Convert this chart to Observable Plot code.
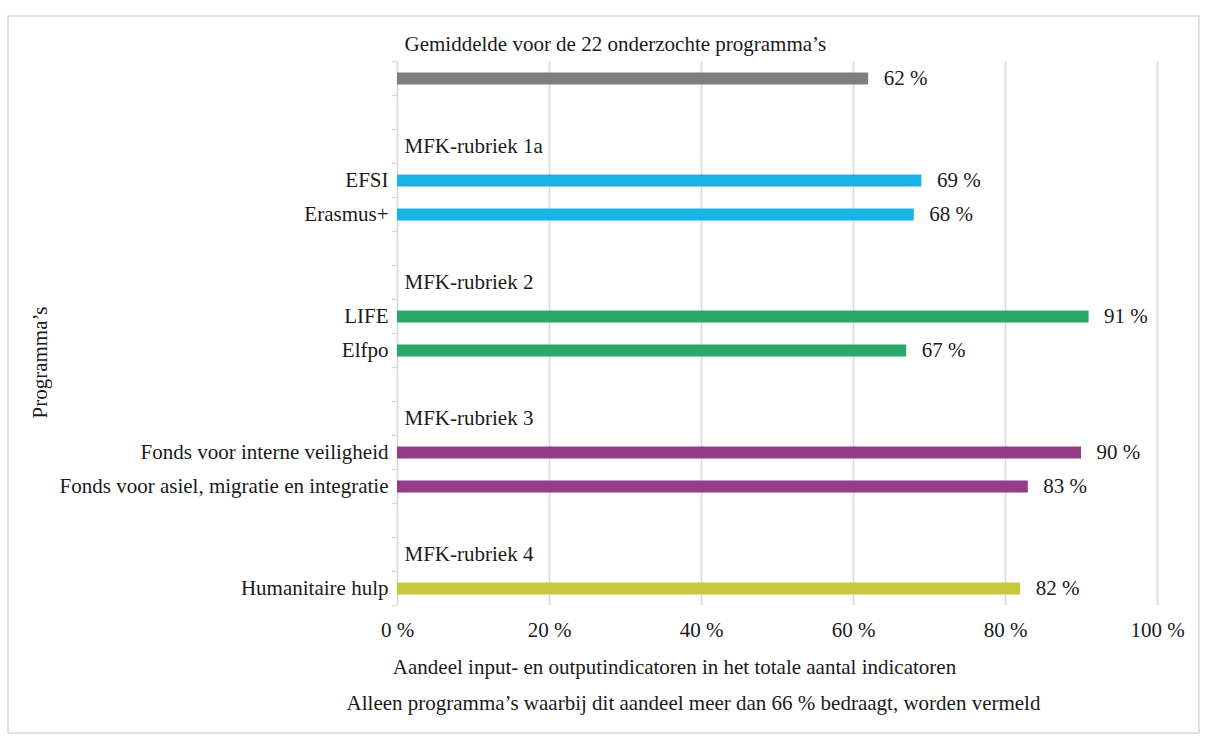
<!DOCTYPE html>
<html>
<head>
<meta charset="utf-8">
<script src="https://cdn.jsdelivr.net/npm/d3@7"></script>
<script src="https://cdn.jsdelivr.net/npm/@observablehq/plot@0.6"></script>
<style>
  html, body { margin: 0; padding: 0; background: #fff; }
</style>
</head>
<body>
<div id="chart"></div>
<script>
const groupNames = [
  "Gemiddelde voor de 22 onderzochte programma’s",
  "MFK-rubriek 1a",
  "MFK-rubriek 2",
  "MFK-rubriek 3",
  "MFK-rubriek 4"
];
const groupColors = ["#7f7f7f", "#19b3e6", "#29a86a", "#923d85", "#c4c83a"];
const programs = [
  "",
  "EFSI",
  "Erasmus+",
  "LIFE",
  "Elfpo",
  "Fonds voor interne veiligheid",
  "Fonds voor asiel, migratie en integratie",
  "Humanitaire hulp"
];
const programGroup = [0, 1, 1, 2, 2, 3, 3, 4];
const shares = [62, 69, 68, 91, 67, 90, 83, 82];
const xTicks = [0, 20, 40, 60, 80, 100];
const xTitle = "Aandeel input- en outputindicatoren in het totale aantal indicatoren";
const xNote = "Alleen programma’s waarbij dit aandeel meer dan 66 % bedraagt, worden vermeld";
const yTitle = "Programma’s";

// Build the row layout from the group structure: header row, items, blank row
const headers = [];
const bars = [];
let row = 0;
groupNames.forEach((g, gi) => {
  headers.push({name: g, row: row});
  row++;
  programs.forEach((p, pi) => {
    if (programGroup[pi] === gi) {
      bars.push({name: p, value: shares[pi], color: groupColors[gi], row: row});
      row++;
    }
  });
  if (gi < groupNames.length - 1) row++;
});
const lastRow = row - 1;
const boundaries = d3.range(0.5, lastRow + 1, 1);

const grid = "#d9d9d9";
const ink = "#1a1a1a";
const fs = 21;

const chart = Plot.plot({
  width: 1209,
  height: 746,
  marginLeft: 397,
  marginRight: 52,
  marginTop: 61,
  marginBottom: 141,
  style: {fontFamily: "'Liberation Serif', serif", fontSize: fs + "px", color: ink, background: "white", overflow: "visible"},
  x: {domain: [0, 100]},
  y: {domain: [0.5, lastRow + 0.5], reverse: true},
  color: {type: "identity"},
  marks: [
    Plot.ruleX(xTicks.filter(d => d > 0), {stroke: grid, strokeWidth: 1.6}),
    Plot.ruleX([0], {stroke: grid, strokeWidth: 1.6}),
    Plot.axisY(boundaries, {tickSize: 5, tickFormat: () => "", stroke: grid, strokeWidth: 1.3, label: null}),
    Plot.axisX(xTicks, {tickSize: 0, tickPadding: 17, tickFormat: d => `${d} %`, fontSize: fs, label: null, fill: ink}),
    Plot.ruleY(bars, {y: "row", x1: 0, x2: "value", stroke: "color", strokeWidth: 12}),
    Plot.text(bars, {y: "row", x: "value", text: d => `${d.value} %`, dx: 15, textAnchor: "start", fill: ink}),
    Plot.text(bars, {y: "row", x: 0, text: "name", dx: -9, textAnchor: "end", fill: ink}),
    Plot.text(headers, {y: "row", x: 0, text: "name", dx: 7, textAnchor: "start", fill: ink}),
    Plot.text([xTitle], {frameAnchor: "bottom", text: d => d, dx: -103, dy: 62, textAnchor: "middle", lineAnchor: "middle", fill: ink}),
    Plot.text([xNote], {frameAnchor: "bottom", text: d => d, dx: -84, dy: 98, textAnchor: "middle", lineAnchor: "middle", fill: ink}),
    Plot.text([yTitle], {frameAnchor: "left", text: d => d, dx: -357, dy: 29, rotate: -90, textAnchor: "middle", lineAnchor: "middle", fill: ink})
  ]
});

d3.select(chart).insert("rect", ":first-child")
  .attr("x", 8).attr("y", 16).attr("width", 1191).attr("height", 717)
  .attr("fill", "none").attr("stroke", grid).attr("stroke-width", 1.5);

document.getElementById("chart").appendChild(chart);
</script>
</body>
</html>
